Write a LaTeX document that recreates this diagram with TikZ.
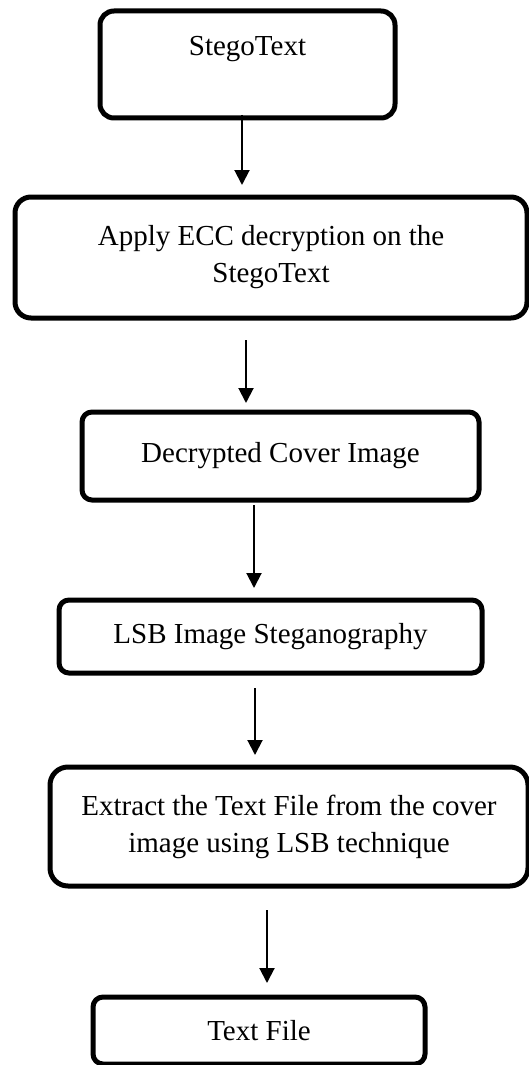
\documentclass[tikz,border=0pt]{standalone}
\usepackage{fontspec}
\setmainfont{Liberation Serif}
\usetikzlibrary{arrows.meta,calc}
\tikzset{
  box/.style={draw=black, line width=2.5pt, rounded corners=6pt, outer sep=0pt,
    inner sep=0pt, align=center, font=\fontsize{14.5}{18.5}\selectfont},
  arr/.style={line width=1pt, -{Triangle[length=7.5pt,width=7.5pt]}}
}
\begin{document}
\begin{tikzpicture}[x=0.5pt,y=-0.5pt]
\useasboundingbox (0,0) rectangle (529,1065);
\node[box, minimum width=295*0.5pt, minimum height=107*0.5pt, rounded corners=7pt] (b1) at (247.5,64.5) {StegoText\\\mbox{}};
\node[box, minimum width=512*0.5pt, minimum height=121*0.5pt, rounded corners=8pt] (b2) at (271,257.5) {Apply ECC decryption on the\\StegoText};
\node[box, minimum width=397*0.5pt, minimum height=88*0.5pt, rounded corners=5pt] (b3) at (280.5,456) {Decrypted Cover Image};
\node[box, minimum width=423*0.5pt, minimum height=73*0.5pt, rounded corners=5pt] (b4) at (270.5,636.5) {LSB Image Steganography};
\node[box, minimum width=478*0.5pt, minimum height=119*0.5pt, rounded corners=9pt] (b5) at (289,826.5) {Extract the Text File from the cover\\image using LSB technique};
\node[box, minimum width=332*0.5pt, minimum height=67*0.5pt, rounded corners=5pt] (b6) at (259,1030.5) {Text File};
\draw[arr] ($(b1.south)+(-5.5,-3)$) -- ($(b2.north)+(-29,-12)$);
\draw[arr] ($(b2.south)+(-25,22)$) -- ($(b3.north)+(-34.5,-9)$);
\draw[arr] ($(b3.south)+(-26.5,5)$) -- ($(b4.north)+(-16.5,-12)$);
\draw[arr] ($(b4.south)+(-15.5,15)$) -- ($(b5.north)+(-34,-12)$);
\draw[arr] ($(b5.south)+(-22,24)$) -- ($(b6.north)+(8,-14)$);
\end{tikzpicture}
\end{document}
